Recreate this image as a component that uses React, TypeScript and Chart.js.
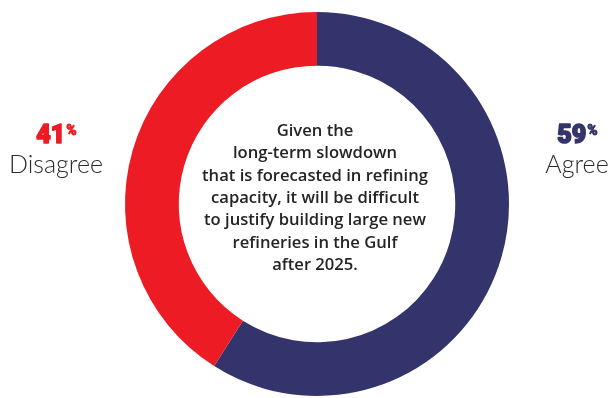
import React, { useEffect, useRef } from "react";
import { Chart, registerables } from "chart.js";

Chart.register(...registerables);

const categories = ["Agree", "Disagree"];
const values = [59, 41];
const colors = ["#33346b", "#ed1c24"];
const questionLines = [
  "Given the",
  "long-term slowdown",
  "that is forecasted in refining",
  "capacity, it will be difficult",
  "to justify building large new",
  "refineries in the Gulf",
  "after 2025.",
];

const labelPlugin = {
  id: "labelPlugin",
  afterDraw(chart: any) {
    const ctx = chart.ctx as CanvasRenderingContext2D;
    ctx.save();
    // center question text
    ctx.fillStyle = "#262324";
    ctx.font = "600 16.6px 'Open Sans'";
    ctx.textAlign = "center";
    ctx.textBaseline = "alphabetic";
    const cx = 315;
    questionLines.forEach((line, i) => {
      ctx.fillText(line, cx, 135.7 + i * 22.4);
    });

    const drawSide = (idx: number, centerX: number) => {
      const pct = String(values[idx]);
      ctx.font = "900 25px Roboto";
      const w1 = ctx.measureText(pct).width;
      ctx.font = "900 14px Roboto";
      const w2 = ctx.measureText("%").width;
      const start = centerX - (w1 + w2) / 2;
      ctx.fillStyle = colors[idx];
      ctx.strokeStyle = colors[idx];
      ctx.lineJoin = "round";
      ctx.textAlign = "left";
      ctx.font = "900 25px Roboto";
      ctx.lineWidth = 1.6;
      ctx.fillText(pct, start, 143.3);
      ctx.strokeText(pct, start, 143.3);
      ctx.font = "900 14px Roboto";
      ctx.lineWidth = 0.8;
      ctx.fillText("%", start + w1 + 1, 135);
      ctx.strokeText("%", start + w1 + 1, 135);
      ctx.fillStyle = "#2b2b2b";
      ctx.font = "300 25px Lato";
      ctx.textAlign = "center";
      ctx.fillText(categories[idx], centerX, 172.7);
    };
    drawSide(1, 56);
    drawSide(0, 577);
    ctx.restore();
  },
};

export default function App() {
  const ref = useRef<HTMLCanvasElement | null>(null);
  useEffect(() => {
    if (!ref.current) return;
    const chart = new Chart(ref.current, {
      type: "doughnut",
      data: {
        labels: categories,
        datasets: [
          {
            data: values,
            backgroundColor: colors,
            borderWidth: 0,
            hoverOffset: 0,
          },
        ],
      },
      options: {
        responsive: false,
        animation: false,
        devicePixelRatio: 1,
        cutout: "72%",
        layout: { padding: { left: 125, top: 12, right: 100, bottom: 2 } },
        plugins: {
          legend: { display: false },
          tooltip: { enabled: false },
        },
      },
      plugins: [labelPlugin],
    } as any);
    return () => chart.destroy();
  }, []);
  return (
    <div style={{ position: "absolute", left: 0, top: 0, width: 609, height: 398, background: "#fff" }}>
      <canvas ref={ref} width={609} height={398} style={{ display: "block" }} />
    </div>
  );
}
